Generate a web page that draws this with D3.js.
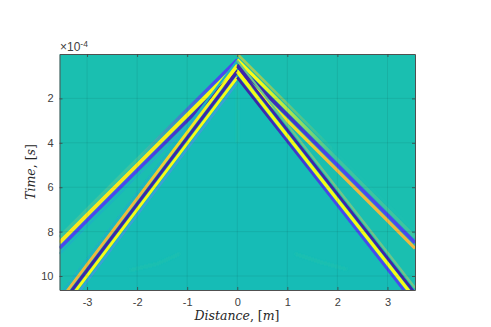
<!DOCTYPE html>
<html>

<head>
    <script src="https://cdn.jsdelivr.net/npm/d3@7"></script>
    <style>
        body {
            margin: 0;
            background: #fff;
        }
    </style>
</head>

<body>
    <div id="chart"></div>
    <script>
        // time in units of 1e-4 s
        var distances = [0, 1, 2, 3, 3.55];
        var leftOuter = [0.5, 2.75, 5.0, 7.25, 8.5];
        var leftInner = [0.8, 3.78, 6.76, 9.74, 11.38];
        var rightOuter = [0.5, 2.75, 5.0, 7.25, 8.5];
        var rightInner = [0.8, 3.68, 6.56, 9.44, 11.03];
        var lobeLags = [-0.5, -0.25, 0, 0.25, 0.5];
        var faintLeft = [[-2.15, 9.75], [-1.6, 9.45], [-1.15, 9.0]];
        var faintRight = [[1.15, 9.0], [1.7, 9.4], [2.2, 9.7]];
        var xTicks = [-3, -2, -1, 0, 1, 2, 3];
        var yTicks = [2, 4, 6, 8, 10];

        var width = 491;
        var height = 327;
        var box = { left: 59.5, right: 415, top: 54, bottom: 290 };

        var x = d3.scaleLinear().domain([-3.55, 3.55]).range([box.left, box.right]);
        var y = d3.scaleLinear().domain([0, 10.63]).range([box.top, box.bottom]);

        var svg = d3.select("#chart").append("svg")
            .attr("width", width)
            .attr("height", height)
            .style("display", "block");

        var defs = svg.append("defs");
        defs.append("clipPath").attr("id", "plot").append("rect")
            .attr("x", box.left).attr("y", box.top)
            .attr("width", box.right - box.left).attr("height", box.bottom - box.top);
        defs.append("filter").attr("id", "soft").append("feGaussianBlur").attr("stdDeviation", 0.6);
        defs.append("filter").attr("id", "softer").append("feGaussianBlur").attr("stdDeviation", 1.2);

        var dark = "#3e26a8", blue = "#4a48ee", sky = "#3aa0d8", yellow = "#f9fb15",
            orange = "#f0b83e", lime = "#6cc68a", teal = "#1abfb0", fade = "#3cc4a0";

        // one entry per lobe of a front: lag index, width, colour near the apex, colour far away
        var fronts = [
            {
                side: -1, times: leftOuter, lobes: [
                    [4, 2.5, sky, "#1fb4c0"],
                    [1, 3.2, blue, fade], [3, 3.4, dark, blue], [2, 3.8, yellow, "#fbe81c"]
                ]
            },
            {
                side: 1, times: rightOuter, lobes: [
                    [0, 2.5, "#9ccc5a", teal],
                    [3, 3.2, yellow, orange], [1, 3.2, yellow, fade], [2, 3.6, dark, blue]
                ]
            },
            {
                side: -1, times: leftInner, lobes: [
                    [0, 2.2, "#1fb4c0", "#1fb4c0"], [4, 2.2, sky, sky],
                    [1, 2.8, yellow, orange], [3, 2.8, yellow, yellow], [2, 3, dark, dark]
                ]
            },
            {
                side: 1, times: rightInner, lobes: [
                    [0, 2.2, lime, lime],
                    [1, 2.8, dark, dark], [3, 2.8, dark, blue], [2, 3.2, yellow, yellow]
                ]
            }
        ];

        var line = d3.line().x(d => x(d[0])).y(d => y(d[1]));

        var image = svg.append("g").attr("clip-path", "url(#plot)");
        image.append("rect")
            .attr("x", box.left).attr("y", box.top)
            .attr("width", box.right - box.left).attr("height", box.bottom - box.top)
            .attr("fill", teal);

        // the slightly bluer wedge under the inner fronts
        var wedge = distances.map((d, i) => [-d, leftInner[i]]).reverse()
            .concat(distances.map((d, i) => [d, rightInner[i]]));
        image.append("path")
            .attr("d", line(wedge) + "Z")
            .attr("fill", "#14bcb6")
            .attr("filter", "url(#softer)");

        var faint = image.append("g").attr("filter", "url(#softer)").attr("fill", "none");
        [faintLeft, faintRight].forEach(pts => {
            faint.append("path").attr("d", line(pts)).attr("stroke", "#1fc0ae").attr("stroke-width", 2.5);
        });
        faint.append("path")
            .attr("d", line([[0, 1.2], [0, 4]]))
            .attr("stroke", "#1fc0ae").attr("stroke-width", 3);

        var bands = image.append("g").attr("filter", "url(#soft)").attr("fill", "none");
        var gradId = 0;
        fronts.forEach(front => {
            front.lobes.forEach(lobe => {
                var id = "g" + (gradId++);
                var grad = defs.append("linearGradient").attr("id", id)
                    .attr("gradientUnits", "userSpaceOnUse")
                    .attr("x1", x(0)).attr("y1", 0)
                    .attr("x2", x(front.side * 3.55)).attr("y2", 0);
                grad.append("stop").attr("offset", 0.12).attr("stop-color", lobe[2]);
                grad.append("stop").attr("offset", 0.55).attr("stop-color", lobe[3]);
                var pts = distances.map((d, i) => [front.side * d, front.times[i] + lobeLags[lobe[0]]]);
                bands.append("path")
                    .attr("d", line(pts))
                    .attr("stroke", "url(#" + id + ")")
                    .attr("stroke-width", lobe[1]);
            });
        });

        // grid on top of the image
        var grid = svg.append("g").attr("stroke", "#000").attr("stroke-opacity", 0.13).attr("stroke-width", 0.6);
        grid.selectAll(".gx").data(xTicks).enter().append("line")
            .attr("x1", d => x(d)).attr("x2", d => x(d))
            .attr("y1", box.top).attr("y2", box.bottom);
        grid.selectAll(".gy").data(yTicks).enter().append("line")
            .attr("x1", box.left).attr("x2", box.right)
            .attr("y1", d => y(d)).attr("y2", d => y(d));

        function styleAxis(g) {
            g.selectAll("path").attr("stroke", "#505050").attr("stroke-width", 1);
            g.selectAll("line").attr("stroke", "#404040").attr("stroke-width", 0.8);
            g.selectAll("text")
                .attr("fill", "#404040")
                .style("font-family", "'Liberation Sans'")
                .style("font-size", "11px");
        }

        var label = d => String(d);
        svg.append("g").attr("transform", "translate(0," + box.bottom + ")")
            .call(d3.axisBottom(x).tickValues(xTicks).tickFormat(label).tickSizeInner(-3).tickSizeOuter(0).tickPadding(8))
            .call(styleAxis);
        svg.append("g").attr("transform", "translate(0," + box.top + ")")
            .call(d3.axisTop(x).tickValues(xTicks).tickFormat("").tickSizeInner(-3).tickSizeOuter(0))
            .call(styleAxis);
        svg.append("g").attr("transform", "translate(" + box.left + ",0)")
            .call(d3.axisLeft(y).tickValues(yTicks).tickFormat(label).tickSizeInner(-3).tickSizeOuter(0).tickPadding(6))
            .call(styleAxis);
        svg.append("g").attr("transform", "translate(" + box.right + ",0)")
            .call(d3.axisRight(y).tickValues(yTicks).tickFormat("").tickSizeInner(-3).tickSizeOuter(0))
            .call(styleAxis);

        // exponent above the axis
        var exp = svg.append("text")
            .attr("x", 60).attr("y", 51)
            .attr("fill", "#404040")
            .style("font-family", "'Liberation Sans'")
            .style("font-size", "12px");
        exp.append("tspan").text("\u00d710");
        exp.append("tspan").attr("dy", -4).style("font-size", "8.5px").text("-4");

        function mathLabel(sel, word, unit) {
            sel.attr("text-anchor", "middle")
                .attr("fill", "#262626")
                .style("font-family", "'DejaVu Serif'")
                .style("font-size", "12.5px");
            sel.append("tspan").style("font-style", "italic").text(word);
            sel.append("tspan").text(", [");
            sel.append("tspan").style("font-style", "italic").text(unit);
            sel.append("tspan").text("]");
        }

        svg.append("text")
            .attr("x", 237).attr("y", 320)
            .call(mathLabel, "Distance", "m");
        svg.append("text")
            .attr("transform", "translate(35,172) rotate(-90)")
            .call(mathLabel, "Time", "s");
    </script>
</body>

</html>
